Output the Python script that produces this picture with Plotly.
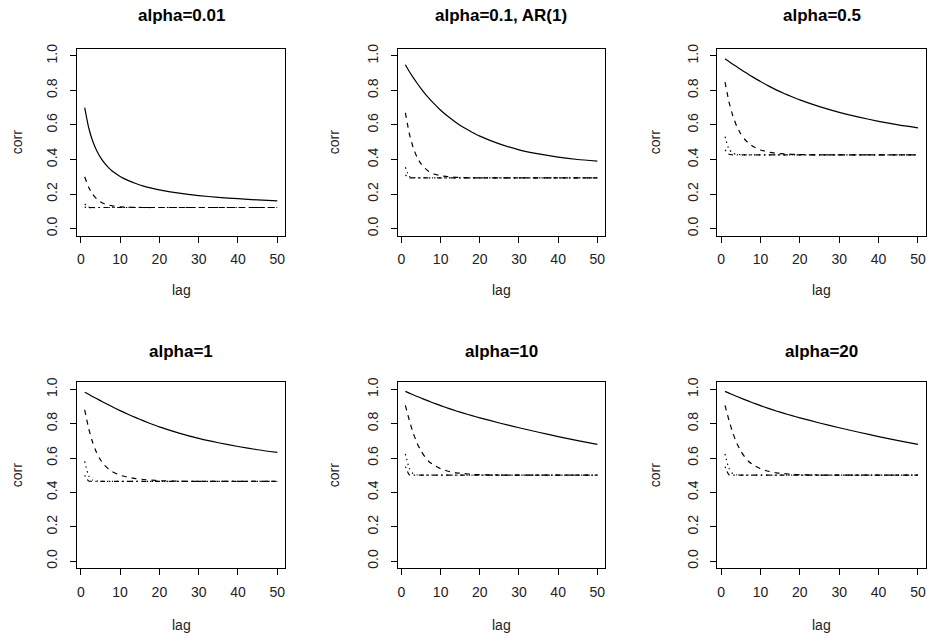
import plotly.graph_objects as go

# ---------------- data ----------------
lags = [1, 2, 3, 4, 5, 6, 7, 8, 10, 12, 14, 16, 18, 20, 25, 30, 35, 40, 45, 50]

titles = ["alpha=0.01", "alpha=0.1, AR(1)", "alpha=0.5", "alpha=1", "alpha=10", "alpha=20"]

solid = [
    [0.700, 0.585, 0.508, 0.453, 0.412, 0.380, 0.354, 0.333, 0.302, 0.279, 0.261, 0.246, 0.234, 0.224, 0.205, 0.191, 0.181, 0.173, 0.166, 0.160],
    [0.948, 0.909, 0.874, 0.841, 0.810, 0.781, 0.755, 0.730, 0.685, 0.647, 0.613, 0.583, 0.558, 0.535, 0.490, 0.456, 0.432, 0.414, 0.400, 0.390],
    [0.983, 0.967, 0.951, 0.936, 0.921, 0.906, 0.892, 0.878, 0.851, 0.826, 0.803, 0.782, 0.763, 0.745, 0.706, 0.673, 0.645, 0.621, 0.600, 0.583],
    [0.983, 0.971, 0.958, 0.946, 0.934, 0.922, 0.910, 0.898, 0.876, 0.855, 0.835, 0.816, 0.798, 0.781, 0.745, 0.714, 0.689, 0.667, 0.648, 0.633],
    [0.988, 0.978, 0.968, 0.958, 0.949, 0.940, 0.931, 0.922, 0.905, 0.889, 0.874, 0.860, 0.847, 0.834, 0.804, 0.776, 0.750, 0.725, 0.701, 0.679],
    [0.988, 0.978, 0.968, 0.958, 0.949, 0.940, 0.931, 0.922, 0.905, 0.889, 0.874, 0.860, 0.847, 0.834, 0.804, 0.776, 0.750, 0.725, 0.701, 0.679],
]

dashed = [
    [0.300, 0.239, 0.200, 0.173, 0.156, 0.144, 0.137, 0.132, 0.126, 0.124, 0.123, 0.122, 0.122, 0.122, 0.122, 0.122, 0.122, 0.122, 0.122, 0.122],
    [0.670, 0.550, 0.468, 0.412, 0.374, 0.349, 0.331, 0.319, 0.306, 0.300, 0.297, 0.295, 0.294, 0.294, 0.294, 0.294, 0.294, 0.294, 0.294, 0.294],
    [0.848, 0.734, 0.651, 0.591, 0.548, 0.517, 0.494, 0.477, 0.455, 0.443, 0.436, 0.432, 0.430, 0.428, 0.427, 0.427, 0.427, 0.427, 0.427, 0.427],
    [0.881, 0.773, 0.692, 0.633, 0.590, 0.559, 0.537, 0.521, 0.500, 0.488, 0.480, 0.475, 0.471, 0.468, 0.465, 0.464, 0.464, 0.464, 0.464, 0.464],
    [0.906, 0.820, 0.745, 0.686, 0.641, 0.606, 0.580, 0.563, 0.538, 0.523, 0.514, 0.509, 0.505, 0.503, 0.501, 0.500, 0.500, 0.500, 0.500, 0.500],
    [0.906, 0.820, 0.745, 0.686, 0.641, 0.606, 0.580, 0.563, 0.538, 0.523, 0.514, 0.509, 0.505, 0.503, 0.501, 0.500, 0.500, 0.500, 0.500, 0.500],
]

dotted = [
    [0.142, 0.124, 0.122, 0.122, 0.122, 0.122, 0.122, 0.122, 0.122, 0.122, 0.122, 0.122, 0.122, 0.122, 0.122, 0.122, 0.122, 0.122, 0.122, 0.122],
    [0.355, 0.302, 0.295, 0.294, 0.294, 0.294, 0.294, 0.294, 0.294, 0.294, 0.294, 0.294, 0.294, 0.294, 0.294, 0.294, 0.294, 0.294, 0.294, 0.294],
    [0.532, 0.459, 0.436, 0.430, 0.428, 0.427, 0.427, 0.427, 0.427, 0.427, 0.427, 0.427, 0.427, 0.427, 0.427, 0.427, 0.427, 0.427, 0.427, 0.427],
    [0.580, 0.497, 0.472, 0.466, 0.464, 0.464, 0.464, 0.464, 0.464, 0.464, 0.464, 0.464, 0.464, 0.464, 0.464, 0.464, 0.464, 0.464, 0.464, 0.464],
    [0.624, 0.540, 0.508, 0.502, 0.500, 0.500, 0.500, 0.500, 0.500, 0.500, 0.500, 0.500, 0.500, 0.500, 0.500, 0.500, 0.500, 0.500, 0.500, 0.500],
    [0.624, 0.540, 0.508, 0.502, 0.500, 0.500, 0.500, 0.500, 0.500, 0.500, 0.500, 0.500, 0.500, 0.500, 0.500, 0.500, 0.500, 0.500, 0.500, 0.500],
]

dotdash = [
    [0.124, 0.122, 0.122, 0.122, 0.122, 0.122, 0.122, 0.122, 0.122, 0.122, 0.122, 0.122, 0.122, 0.122, 0.122, 0.122, 0.122, 0.122, 0.122, 0.122],
    [0.310, 0.294, 0.294, 0.294, 0.294, 0.294, 0.294, 0.294, 0.294, 0.294, 0.294, 0.294, 0.294, 0.294, 0.294, 0.294, 0.294, 0.294, 0.294, 0.294],
    [0.455, 0.430, 0.427, 0.427, 0.427, 0.427, 0.427, 0.427, 0.427, 0.427, 0.427, 0.427, 0.427, 0.427, 0.427, 0.427, 0.427, 0.427, 0.427, 0.427],
    [0.500, 0.466, 0.464, 0.464, 0.464, 0.464, 0.464, 0.464, 0.464, 0.464, 0.464, 0.464, 0.464, 0.464, 0.464, 0.464, 0.464, 0.464, 0.464, 0.464],
    [0.550, 0.502, 0.500, 0.500, 0.500, 0.500, 0.500, 0.500, 0.500, 0.500, 0.500, 0.500, 0.500, 0.500, 0.500, 0.500, 0.500, 0.500, 0.500, 0.500],
    [0.550, 0.502, 0.500, 0.500, 0.500, 0.500, 0.500, 0.500, 0.500, 0.500, 0.500, 0.500, 0.500, 0.500, 0.500, 0.500, 0.500, 0.500, 0.500, 0.500],
]

x_ticks = [0, 10, 20, 30, 40, 50]
y_ticks = [0.0, 0.2, 0.4, 0.6, 0.8, 1.0]
y_tick_labels = ["0.0", "0.2", "0.4", "0.6", "0.8", "1.0"]
x_label = "lag"
y_label = "corr"

# ---------------- layout geometry (pixels) ----------------
W, H = 928, 640
col_px = [(77, 285), (397.7, 605), (717.3, 925.7)]
row_px = [(44.3, 232.7), (381, 568.3)]
title_y = [11, 350]
lag_y = [288, 626]
corr_x = [17, 334, 655]

FONT = "Liberation Sans, Arial, Helvetica, sans-serif"
styles = [
    ("solid", solid),
    ("5px,5px", dashed),
    ("1.3px,3.7px", dotted),
    ("1.3px,3.7px,5px,3.7px", dotdash),
]

fig = go.Figure()
annotations = []
layout = {}

for i in range(6):
    r, c = divmod(i, 3)
    n = "" if i == 0 else str(i + 1)
    x0, x1 = col_px[c]
    y0, y1 = row_px[r]
    for dash, series in styles:
        fig.add_trace(go.Scatter(
            x=lags, y=series[i], mode="lines",
            line=dict(color="black", width=1.2, dash=dash, shape="spline", smoothing=0.5),
            xaxis="x" + n, yaxis="y" + n, showlegend=False, hoverinfo="skip",
        ))
    layout["xaxis" + n] = dict(
        domain=[x0 / W, x1 / W], anchor="y" + n, range=[-0.96, 51.96],
        tickmode="array", tickvals=x_ticks, ticktext=[str(v) for v in x_ticks],
        ticks="outside", ticklen=6, tickwidth=1, tickcolor="black",
        showline=True, mirror=True, linecolor="black", linewidth=1,
        showgrid=False, zeroline=False, ticklabelstandoff=5,
        tickfont=dict(family=FONT, size=14, color="#222"),
    )
    layout["yaxis" + n] = dict(
        domain=[1 - y1 / H, 1 - y0 / H], anchor="x" + n, range=[-0.04, 1.04],
        tickmode="array", tickvals=y_ticks, ticktext=y_tick_labels, tickangle=-90,
        ticks="outside", ticklen=6, tickwidth=1, tickcolor="black",
        showline=True, mirror=True, linecolor="black", linewidth=1,
        showgrid=False, zeroline=False, ticklabelstandoff=7,
        tickfont=dict(family=FONT, size=14, color="#222"),
    )
    annotations.append(dict(
        text="<b>" + titles[i] + "</b>", x=(x0 + x1) / 2 / W, y=1 - title_y[r] / H,
        xref="paper", yref="paper", showarrow=False, xanchor="center", yanchor="middle",
        font=dict(family=FONT, size=17, color="black"),
    ))
    annotations.append(dict(
        text=x_label, x=(x0 + x1) / 2 / W, y=1 - lag_y[r] / H,
        xref="paper", yref="paper", showarrow=False, xanchor="center", yanchor="middle",
        font=dict(family=FONT, size=14, color="#222"),
    ))
    annotations.append(dict(
        text=y_label, x=corr_x[c] / W, y=1 - (y0 + y1) / 2 / H, textangle=-90,
        xref="paper", yref="paper", showarrow=False, xanchor="center", yanchor="middle",
        font=dict(family=FONT, size=14, color="#222"),
    ))

fig.update_layout(
    width=W, height=H, margin=dict(l=0, r=0, t=0, b=0),
    paper_bgcolor="white", plot_bgcolor="white",
    annotations=annotations, **layout,
)

fig.write_html(
    "out.html",
    config={"displayModeBar": False},
    post_script="document.body.style.margin='0';document.body.style.padding='0';document.body.style.overflow='hidden';",
)
